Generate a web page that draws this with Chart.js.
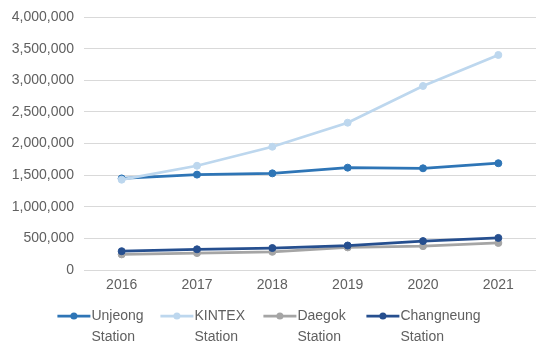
<!DOCTYPE html>
<html>
<head>
<meta charset="utf-8">
<script src="https://cdn.jsdelivr.net/npm/chart.js@4.4.1/dist/chart.umd.min.js"></script>
<style>
    html, body { margin: 0; padding: 0; background: #ffffff; }
    #wrap { width: 542px; height: 351px; position: relative; }
</style>
</head>
<body>
<div id="wrap"><canvas id="chart"></canvas></div>
<script>
// Données
const years = ['2016', '2017', '2018', '2019', '2020', '2021'];
const seriesNames = [
    ['Unjeong', 'Station'],
    ['KINTEX', 'Station'],
    ['Daegok', 'Station'],
    ['Changneung', 'Station']
];
const unjeong = [1450000, 1510000, 1530000, 1620000, 1610000, 1690000];
const kintex = [1430000, 1650000, 1950000, 2330000, 2910000, 3400000];
const daegok = [250000, 270000, 290000, 360000, 380000, 430000];
const changneung = [300000, 330000, 350000, 390000, 460000, 510000];
const yTicks = [0, 500000, 1000000, 1500000, 2000000, 2500000, 3000000, 3500000, 4000000];

const colors = ['#2e75b6', '#bdd7ee', '#a5a5a5', '#264f8f'];
const textColor = '#606060';
const fontFamily = '"Liberation Sans", Arial, sans-serif';

const seriesValues = [unjeong, kintex, daegok, changneung];

const datasets = seriesValues.map((values, i) => ({
    label: seriesNames[i].join(' '),
    data: values,
    borderColor: colors[i],
    backgroundColor: colors[i],
    pointBackgroundColor: colors[i],
    pointBorderColor: colors[i],
    borderWidth: 2.75,
    pointRadius: 3.5,
    pointBorderWidth: 1,
    tension: 0,
    fill: false,
    order: seriesValues.length - i
}));

// Légende en bas, texte sur deux lignes, cases de largeur égale
const bottomLegend = {
    id: 'bottomLegend',
    afterDraw(chart) {
        const ctx = chart.ctx;
        ctx.save();
        ctx.font = '14px ' + fontFamily;
        const markerW = 34;
        const slot = 103;
        const lastW = markerW + Math.max(...seriesNames[seriesNames.length - 1].map(l => ctx.measureText(l).width));
        const total = slot * (seriesNames.length - 1) + lastW;
        let x = (chart.width - total) / 2 - 2;
        const y1 = 316;
        const lineH = 21;
        seriesNames.forEach((lines, i) => {
            ctx.strokeStyle = colors[i];
            ctx.fillStyle = colors[i];
            ctx.lineWidth = 2.75;
            ctx.beginPath();
            ctx.moveTo(x, y1);
            ctx.lineTo(x + markerW - 1, y1);
            ctx.stroke();
            ctx.beginPath();
            ctx.arc(x + (markerW - 1) / 2, y1, 3.5, 0, Math.PI * 2);
            ctx.fill();
            ctx.fillStyle = textColor;
            ctx.textAlign = 'left';
            ctx.textBaseline = 'middle';
            lines.forEach((l, k) => ctx.fillText(l, x + markerW, y1 + k * lineH));
            x += slot;
        });
        ctx.restore();
    }
};

new Chart(document.getElementById('chart'), {
    type: 'line',
    data: { labels: years, datasets: datasets },
    plugins: [bottomLegend],
    options: {
        responsive: true,
        maintainAspectRatio: false,
        animation: false,
        layout: { padding: { top: 4, right: 6, left: 0, bottom: 50 } },
        plugins: {
            legend: { display: false },
            tooltip: { enabled: false }
        },
        scales: {
            x: {
                offset: true,
                grid: { display: false, drawTicks: false },
                border: { display: false },
                ticks: {
                    color: textColor,
                    padding: 7,
                    font: { size: 14, family: fontFamily }
                }
            },
            y: {
                min: 0,
                max: 4000000,
                afterBuildTicks: scale => { scale.ticks = yTicks.map(v => ({ value: v })); },
                afterFit: scale => { scale.width = 84; },
                grid: { color: '#d9d9d9', lineWidth: 1, drawTicks: false },
                border: { display: false },
                ticks: {
                    color: textColor,
                    padding: 10,
                    font: { size: 14, family: fontFamily, lineHeight: 1 },
                    callback: v => v.toLocaleString('en-US')
                }
            }
        }
    }
});
</script>
</body>
</html>
